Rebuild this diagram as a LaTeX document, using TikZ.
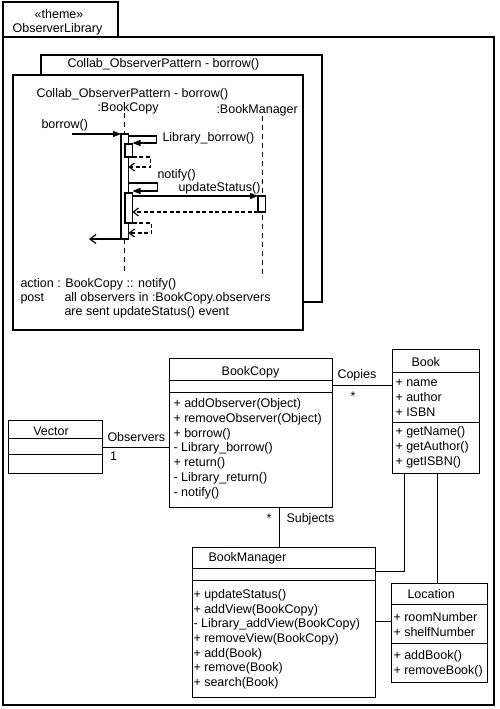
\documentclass[tikz,border=0pt]{standalone}
\usepackage{fontspec}
\setmainfont{Liberation Sans}
\usetikzlibrary{arrows.meta}
\begin{document}
\begin{tikzpicture}[x=1pt,y=-1pt,line width=1pt,
  txt/.style={inner sep=0pt,font=\fontsize{12.5}{15}\selectfont},
  lt/.style={txt,anchor=base west},
  ct/.style={txt,anchor=base},
  frame/.style={draw,fill=white,inner sep=0pt,outer sep=0pt,anchor=north west,line width=1.1pt},
  cls/.style={draw,fill=white,inner sep=0pt,outer sep=0pt,anchor=north west,line width=1pt},
  act/.style={draw,fill=white,inner sep=0pt,outer sep=0pt,anchor=north west,minimum width=7.5pt,line width=1.2pt},
  life/.style={line width=1pt,dash pattern=on 5pt off 4pt},
  call/.style={line width=1.2pt,-{Triangle[length=8pt,width=6pt]}},
  ret/.style={line width=1.2pt,dash pattern=on 4pt off 2.5pt,-{Straight Barb[length=5pt,width=8pt]}},
  retsolid/.style={line width=1.2pt,-{Straight Barb[length=6pt,width=9pt]}},
  assoc/.style={line width=1pt}]
\useasboundingbox (0,0) rectangle (500,709);
% package
\node[frame,minimum width=115pt,minimum height=35pt] (pkgtab) at (3,2) {};
\node[frame,minimum width=491pt,minimum height=668pt] (pkg) at (3,37) {};
\node[ct] (stereo) at (59,18.5) {«theme»};
\node[ct] (pkgname) at (57.5,32.5) {ObserverLibrary};
% collaboration frames
\node[frame,minimum width=281pt,minimum height=247pt] (back) at (41,55) {};
\node[lt] (backtitle) at (67,67.5) {Collab\_ObserverPattern - borrow()};
\node[frame,minimum width=290pt,minimum height=255pt] (front) at (13,75) {};
\node[lt] (fronttitle) at (36,97.5) {Collab\_ObserverPattern - borrow()};
\node[lt] (lbc) at (97,111) {:BookCopy};
\node[lt] (lbm) at (216,113) {:BookManager};
% lifelines
\coordinate (lbctop) at (124,113);
\coordinate (lbcbot) at (124,272);
\coordinate (lbmtop) at (262,116);
\coordinate (lbmbot) at (262,275);
\draw[life] (lbctop) -- (lbcbot);
\draw[life] (lbmtop) -- (lbmbot);
% activations
\node[act,minimum height=105pt] (act0) at (121,134) {};
\node[act,minimum height=13pt] (act1) at (125,144) {};
\node[act,minimum height=30pt] (act2) at (125,193) {};
\node[act,minimum height=16pt] (actbm) at (258,196) {};
% messages
\node[lt] (mborrow) at (41,128.5) {borrow()};
\coordinate (bsrc) at (72,134);
\draw[call] (bsrc) -- (bsrc -| act0.west);
\node[lt] (mlib) at (162,141.5) {Library\_borrow()};
\draw[call] ([yshift=-2pt]act0.north east) -- ++(28,0) |- ([yshift=1pt]act1.north east);
\draw[ret] (act1.south east) -- ++(18,0) |- (act0.east |- 0,167);
\node[lt] (mnotify) at (157,178.5) {notify()};
\draw[call] (act0.east |- 0,183) -- ++(29,0) |- ([yshift=2pt]act2.north east);
\node[lt] (mupd) at (178,191.5) {updateStatus()};
\draw[call] (act2.east |- actbm.north) -- (actbm.north west);
\draw[ret] (actbm.south west) -- (act2.east |- actbm.south);
\draw[ret] (act2.south east) -- ++(19,0) |- (act0.east |- 0,233);
\coordinate (fin) at (89,239);
\draw[retsolid] (act0.south west) -- (fin);
% constraint text
\node[lt] (action) at (20,287.5) {action : BookCopy :: notify()};
\node[lt] (post) at (20,301.5) {post};
\node[lt] (post1) at (64,301.5) {all observers in :BookCopy.observers};
\node[lt] (post2) at (64,315.5) {are sent updateStatus() event};
% class BookCopy
\node[cls,minimum width=163pt,minimum height=149pt] (bookcopy) at (169,358) {};
\draw (bookcopy.west |- 0,380) -- (bookcopy.east |- 0,380);
\draw (bookcopy.west |- 0,392) -- (bookcopy.east |- 0,392);
\node[ct] (bcname) at (250.5,375.5) {BookCopy};
\foreach \t [count=\i from 0] in {+ addObserver(Object),+ removeObserver(Object),+ borrow(),- Library\_borrow(),+ return(),- Library\_return(),- notify()}
  \node[lt] (bcm\i) at (173,407.5+14.8*\i) {\t};
% class Vector
\node[cls,minimum width=94pt,minimum height=53pt] (vector) at (8,420) {};
\draw (vector.west |- 0,438) -- (vector.east |- 0,438);
\draw (vector.west |- 0,454) -- (vector.east |- 0,454);
\node[ct] (vname) at (51,435) {Vector};
% class Book
\node[cls,minimum width=87pt,minimum height=124pt] (book) at (392,349) {};
\draw (book.west |- 0,372) -- (book.east |- 0,372);
\draw (book.west |- 0,422) -- (book.east |- 0,422);
\node[lt] (bname) at (411,366.5) {Book};
\foreach \t [count=\i from 0] in {+ name,+ author,+ ISBN}
  \node[lt] (ba\i) at (395,386.5+15*\i) {\t};
\foreach \t [count=\i from 0] in {+ getName(),+ getAuthor(),+ getISBN()}
  \node[lt] (bm\i) at (395,435.5+15*\i) {\t};
% class BookManager
\node[cls,minimum width=183pt,minimum height=150pt] (bookmgr) at (192,547) {};
\draw (bookmgr.west |- 0,568) -- (bookmgr.east |- 0,568);
\draw (bookmgr.west |- 0,580) -- (bookmgr.east |- 0,580);
\node[lt] (bmname) at (208,561.5) {BookManager};
\foreach \t [count=\i from 0] in {+ updateStatus(),+ addView(BookCopy),- Library\_addView(BookCopy),+ removeView(BookCopy),+ add(Book),+ remove(Book),+ search(Book)}
  \node[lt] (bmm\i) at (193,598.8+14.55*\i) {\t};
% class Location
\node[cls,minimum width=96pt,minimum height=99pt] (location) at (391,583) {};
\draw (location.west |- 0,604) -- (location.east |- 0,604);
\draw (location.west |- 0,643) -- (location.east |- 0,643);
\node[lt] (lname) at (407,598.5) {Location};
\node[lt] (la0) at (393,621.8) {+ roomNumber};
\node[lt] (la1) at (393,636.2) {+ shelfNumber};
\node[lt] (lm0) at (393,659.5) {+ addBook()};
\node[lt] (lm1) at (393,674.5) {+ removeBook()};
% associations
\draw[assoc] (vector.east |- 0,447) -- (bookcopy.west |- 0,447);
\node[lt] (observers) at (107,441.5) {Observers};
\node[lt] (one) at (109.5,460.5) {1};
\draw[assoc] (bookcopy.east |- 0,385) -- (book.west |- 0,385);
\node[lt] (copies) at (337,378.5) {Copies};
\node[lt] (copiesm) at (350,400) {*};
\draw[assoc] (bookcopy.south -| 279,0) -- (bookmgr.north -| 279,0);
\node[lt] (subjm) at (266,522) {*};
\node[lt] (subjects) at (286,522.5) {Subjects};
\draw[assoc] (book.south -| 404,0) -- (404,571) -- (bookmgr.east |- 0,571);
\draw[assoc] (book.south -| 437,0) -- (location.north -| 437,0);
\draw[assoc] (bookmgr.east |- 0,621) -- (location.west |- 0,621);
\end{tikzpicture}
\end{document}
